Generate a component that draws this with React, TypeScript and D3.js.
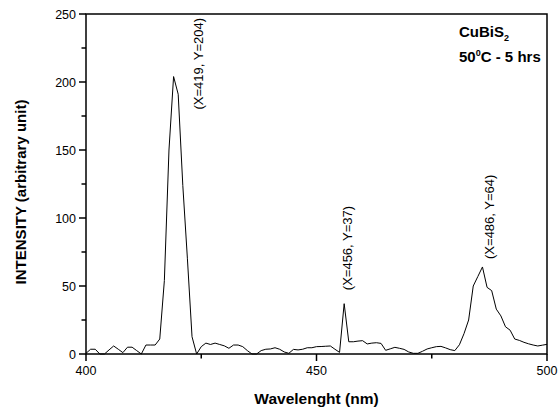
import React from "react";
import * as d3 from "d3";

const wavelengthStart = 400;
const intensities = [
  0.5, 3.5, 3.5, 0, 0, 3, 5.9, 3.5, 1, 5,
  5, 2.5, 0, 6.6, 6.6, 6.6, 11, 54, 150, 204,
  191, 124, 70, 12.7, 0, 5.4, 8, 7, 8, 7,
  6, 4.2, 6.6, 6.6, 5.4, 2.5, 0, 0, 2.5, 3.5,
  3.7, 4.6, 3.5, 1.5, 0.5, 3.4, 3, 3.5, 4.6, 4.6,
  5.4, 5.5, 5.7, 5.9, 3.5, 1.2, 37, 9, 9, 9.5,
  9.8, 7.4, 8, 8.3, 7.8, 2.7, 3.8, 4.9, 4.2, 3.4,
  1.5, 0.5, 0.5, 2, 3.7, 4.6, 5.4, 5.6, 4.5, 3.2,
  2.5, 6.8, 15, 25, 50, 57, 64, 49, 46.6, 33,
  28, 20, 17.5, 11, 10, 8.6, 7.5, 6.6, 5.9, 6.5,
  7.1,
];
const wavelengths = intensities.map((_, i) => wavelengthStart + i);

const xTicks = [400, 450, 500];
const xMinorTicks = [425, 475];
const yTicks = [0, 50, 100, 150, 200, 250];
const yMinorTicks = [25, 75, 125, 175, 225];

const peakX = [419, 456, 486];
const peakY = [204, 37, 64];
const peakLabels = ["(X=419, Y=204)", "(X=456, Y=37)", "(X=486, Y=64)"];
// pixel offsets of label anchor from peak point
const labelDx = [29, 8, 11.5];
const labelDy = [33, -13.5, -8];

const W = 558;
const H = 412;
const M = { left: 86, right: 11, top: 14, bottom: 58 };

export default function App() {
  const x = d3.scaleLinear().domain([400, 500]).range([M.left, W - M.right]);
  const y = d3.scaleLinear().domain([0, 250]).range([H - M.bottom, M.top]);
  const line = d3
    .line<number>()
    .x((_, i) => x(wavelengths[i]))
    .y((d) => y(d));
  const font = "Arial, 'Liberation Sans', Helvetica, sans-serif";
  const x0 = M.left;
  const x1 = W - M.right;
  const y0 = H - M.bottom;
  const y1 = M.top;
  return (
    <svg
      width={W}
      height={H}
      style={{ position: "absolute", left: 0, top: 0, background: "#fff" }}
      fontFamily={font}
    >
      <rect x={0} y={0} width={W} height={H} fill="#fff" />
      <path d={line(intensities) || ""} fill="none" stroke="#000" strokeWidth={1} />
      {/* frame */}
      <rect x={x0} y={y1} width={x1 - x0} height={y0 - y1} fill="none" stroke="#000" strokeWidth={1.5} />
      {/* x ticks */}
      {xTicks.map((t) => (
        <g key={"xt" + t}>
          <line x1={x(t)} x2={x(t)} y1={y0} y2={y0 + 7} stroke="#000" strokeWidth={1.5} />
          <text x={x(t)} y={y0 + 21} textAnchor="middle" fontSize={12.5} fill="#000">
            {t}
          </text>
        </g>
      ))}
      {xMinorTicks.map((t) => (
        <line key={"xm" + t} x1={x(t)} x2={x(t)} y1={y0} y2={y0 + 4.5} stroke="#000" strokeWidth={1.5} />
      ))}
      {yTicks.map((t) => (
        <g key={"yt" + t}>
          <line x1={x0 - 7} x2={x0} y1={y(t)} y2={y(t)} stroke="#000" strokeWidth={1.5} />
          <text x={x0 - 10} y={y(t) + 4.5} textAnchor="end" fontSize={12.5} fill="#000">
            {t}
          </text>
        </g>
      ))}
      {yMinorTicks.map((t) => (
        <line key={"ym" + t} x1={x0 - 4.5} x2={x0} y1={y(t)} y2={y(t)} stroke="#000" strokeWidth={1.5} />
      ))}
      {/* axis titles */}
      <text
        x={(x0 + x1) / 2}
        y={y0 + 50}
        textAnchor="middle"
        fontSize={15.5}
        fontWeight="bold"
        fill="#000"
      >
        Wavelenght (nm)
      </text>
      <text
        transform={`translate(26, ${(y0 + y1) / 2 + 8}) rotate(-90)`}
        textAnchor="middle"
        fontSize={15}
        fontWeight="bold"
        fill="#000"
      >
        INTENSITY (arbitrary unit)
      </text>
      {/* peak labels */}
      {peakLabels.map((lab, i) => (
        <text
          key={"pl" + i}
          transform={`translate(${x(peakX[i]) + labelDx[i]}, ${y(peakY[i]) + labelDy[i]}) rotate(-90)`}
          fontSize={13}
          fill="#000"
        >
          {lab}
        </text>
      ))}
      {/* legend text */}
      <text x={459} y={37} fontSize={15} fontWeight="bold" fill="#000">
        CuBiS
        <tspan fontSize={9} dy={4}>2</tspan>
      </text>
      <text x={459} y={62} fontSize={15} fontWeight="bold" fill="#000">
        50
        <tspan fontSize={9} dy={-6}>0</tspan>
        <tspan dy={6}>C - 5 hrs</tspan>
      </text>
    </svg>
  );
}
